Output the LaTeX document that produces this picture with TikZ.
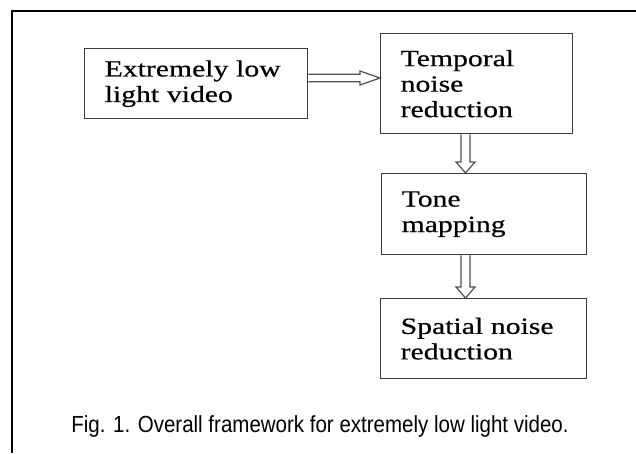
\documentclass[tikz,border=0pt]{standalone}
\usepackage{fontspec}
\usetikzlibrary{calc}
\newfontfamily\boxfont[FakeStretch=1.28, FakeBold=0.5]{Liberation Serif}
\newfontfamily\capfont[FakeStretch=0.88]{Liberation Sans}
\definecolor{boxline}{HTML}{3A3A3A}
\definecolor{arrowline}{HTML}{505050}
\tikzset{
  stage/.style={draw=boxline, line width=1.4pt, rectangle, anchor=north west,
    inner xsep=20pt, inner ysep=0pt, align=left,
    font=\boxfont\fontsize{23.2}{25.5}\selectfont},
  hollow/.style={draw=arrowline, line width=1.2pt, line join=miter},
  frameline/.style={draw=black, line width=2pt}
}
\begin{document}
\begin{tikzpicture}[x=1pt, y=-1pt]
  \useasboundingbox (0,0) rectangle (636,453);
  % open frame (top and left edges)
  \draw[frameline] (636,11) -- (12,11) -- (12,453);

  % processing stages
  \node[stage, minimum width=223pt, minimum height=70pt, text width=183pt]
    (src) at (84,48) {Extremely~low\\light~video};
  \node[stage, minimum width=192pt, minimum height=100pt, text width=152pt]
    (tnr) at (380,33) {Temporal\\noise\\reduction};
  \node[stage, minimum width=205pt, minimum height=81pt, text width=165pt]
    (tm) at (381,173) {Tone\\mapping};
  \node[stage, minimum width=206pt, minimum height=80pt, text width=166pt]
    (snr) at (380,298) {Spatial~noise\\reduction};

  % reference lines for the connectors
  \coordinate (hline) at (0,78);
  \coordinate (vline) at (465.5,0);

  % hollow block arrows
  \draw[hollow] ($(src.east |- hline)+(0,-3.7)$) -- ($(tnr.west |- hline)+(-20,-3.7)$)
    -- ($(tnr.west |- hline)+(-20,-7)$) -- (tnr.west |- hline)
    -- ($(tnr.west |- hline)+(-20,7)$) -- ($(tnr.west |- hline)+(-20,3.7)$)
    -- ($(src.east |- hline)+(0,3.7)$);
  \draw[hollow] ($(tnr.south -| vline)+(-4.5,0)$) -- ($(tm.north -| vline)+(-4.5,-11)$)
    -- ($(tm.north -| vline)+(-9.5,-11)$) -- (tm.north -| vline)
    -- ($(tm.north -| vline)+(9.5,-11)$) -- ($(tm.north -| vline)+(4.5,-11)$)
    -- ($(tnr.south -| vline)+(4.5,0)$);
  \draw[hollow] ($(tm.south -| vline)+(-4.5,0)$) -- ($(snr.north -| vline)+(-4.5,-11)$)
    -- ($(snr.north -| vline)+(-9.5,-11)$) -- (snr.north -| vline)
    -- ($(snr.north -| vline)+(9.5,-11)$) -- ($(snr.north -| vline)+(4.5,-11)$)
    -- ($(tm.south -| vline)+(4.5,0)$);

  % caption
  \node[anchor=base, inner sep=0pt, font=\capfont\fontsize{23.3}{27}\selectfont]
    (cap) at (320,432) {Fig. 1. Overall framework for extremely low light video.};
\end{tikzpicture}
\end{document}
